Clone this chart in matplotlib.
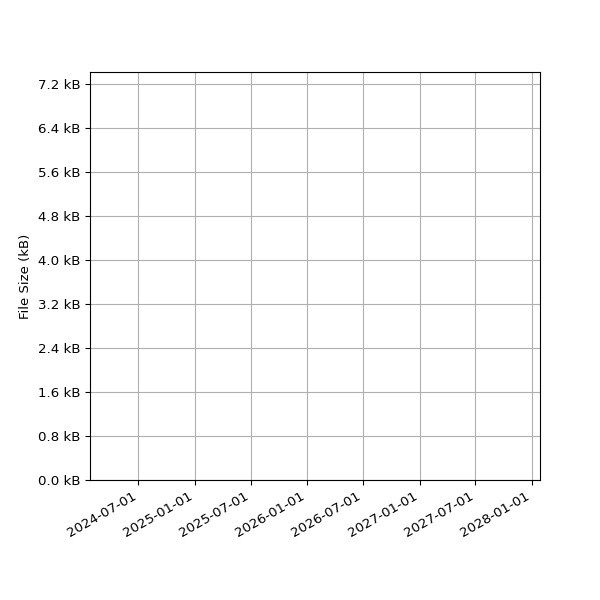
import datetime

import matplotlib

matplotlib.use("Agg")
import matplotlib.dates as mdates
import matplotlib.pyplot as plt
from matplotlib.ticker import FuncFormatter, MultipleLocator

# the reference chart has no visible data, only the empty axes
dates = []
sizes_kb = []

x_start = datetime.datetime(2024, 1, 26)
x_end = datetime.datetime(2028, 1, 27)
y_max_kb = 7.42

fig, ax = plt.subplots(figsize=(6, 6), dpi=100)
ax.plot(dates, sizes_kb)
ax.set_xlim(x_start, x_end)
ax.set_ylim(0, y_max_kb)

ax.xaxis.set_major_locator(mdates.MonthLocator(bymonth=(1, 7)))
ax.xaxis.set_major_formatter(mdates.DateFormatter("%Y-%m-%d"))
ax.yaxis.set_major_locator(MultipleLocator(0.8))
ax.yaxis.set_major_formatter(FuncFormatter(lambda v, pos: f"{v:.1f} kB"))
ax.tick_params(labelsize=9.6)

ax.set_ylabel("File Size (kB)", fontsize=9.5)
ax.grid(True)
fig.autofmt_xdate()
fig.subplots_adjust(left=0.15, right=0.9, top=0.88, bottom=0.2)
fig.savefig("out.png")
